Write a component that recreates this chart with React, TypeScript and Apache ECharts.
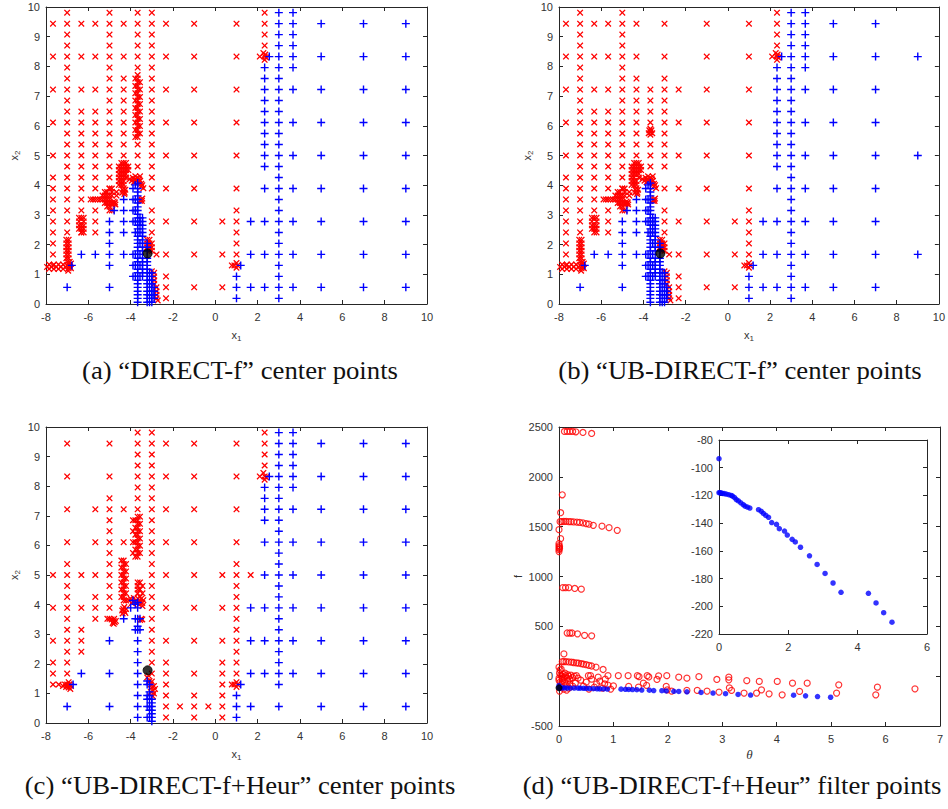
import React, { useEffect, useRef } from "react";
import * as echarts from "echarts";

type Col = [number, number[]];
type Pt = [number, number];

// ---------------- (a) "DIRECT-f" center points ----------------
const aRedCols: Col[] = [
  [-7.67, [9.44, 8.33, 7.22, 6.11, 5.0, 4.26, 3.89, 3.52, 3.15, 2.78, 2.41, 2.04, 1.67, 1.3]],
  [-7.0, [9.81, 9.44, 9.07, 8.7, 8.33, 7.96, 7.59, 7.22, 6.85, 6.48, 6.11, 5.74, 5.37, 5.0, 4.63, 4.26, 3.89, 3.52, 3.15, 2.78, 2.41]],
  [-6.33, [9.44, 8.33, 7.22, 6.48, 6.11, 5.74, 5.37, 5.0, 4.63, 4.26, 3.89, 3.52, 3.15, 2.41]],
  [-5.67, [9.44, 8.33, 7.22, 6.48, 6.11, 5.74, 5.37, 5.0, 4.63, 4.26, 3.89, 3.52, 3.15, 2.78, 2.41]],
  [-5.0, [9.81, 9.44, 9.07, 8.7, 8.33, 7.96, 7.59, 7.22, 6.85, 6.48, 6.11, 5.74, 5.37, 5.0, 4.63, 4.26, 3.89, 3.52, 3.15]],
  [-4.33, [9.44, 8.33, 7.59, 7.22, 6.85, 6.48, 6.11, 5.74, 5.37, 5.0, 4.26]],
  [-3.67, [9.81, 9.44, 9.07, 8.7, 8.33, 7.96, 5.37, 5.0, 4.63]],
  [-3.0, [9.81, 9.44, 9.07, 8.7, 8.33, 7.96, 7.59, 7.22, 6.85, 6.48, 6.11, 5.74, 5.37, 5.0, 4.63, 4.26, 3.89, 3.15, 2.78, 2.41]],
  [-2.33, [9.44, 8.33, 7.22, 6.11, 5.0, 3.89, 2.78, 1.67, 0.93, 0.56, 0.19]],
  [-1.0, [9.44, 8.33, 7.22, 6.11, 5.0, 3.89, 2.78, 1.67, 0.56]],
  [0.33, [2.78, 1.67, 0.56]],
  [1.0, [9.44, 8.33, 7.22, 6.11, 5.0, 3.89, 3.15, 2.78, 2.41, 2.04, 1.67]],
  [2.33, [9.81, 9.44, 9.07, 8.7]],
];
// dense red clusters shared by (a) and (b)
const abRedClusters: Pt[] = [
  [-7.95, 1.25], [-7.85, 1.18], [-7.85, 1.33], [-7.75, 1.25], [-7.63, 1.18], [-7.63, 1.33], [-7.52, 1.25],
  [-7.41, 1.18], [-7.41, 1.33], [-7.3, 1.25], [-7.19, 1.18], [-7.19, 1.33], [-7.08, 1.25],
  [-7.04, 2.16], [-6.93, 2.16], [-7.04, 2.04], [-6.93, 2.04], [-7.04, 1.91], [-6.93, 1.91], [-7.04, 1.79], [-6.93, 1.79],
  [-7.04, 1.67], [-6.93, 1.67], [-7.04, 1.54], [-6.93, 1.54], [-6.99, 1.42], [-6.88, 1.42], [-6.99, 1.3], [-6.88, 1.3],
  [-6.93, 1.2], [-6.82, 1.2], [-6.82, 1.36], [-6.95, 1.12], [-6.86, 1.25],
  [-6.44, 2.9], [-6.33, 2.9], [-6.22, 2.9], [-6.44, 2.78], [-6.22, 2.78], [-6.44, 2.65], [-6.33, 2.65], [-6.22, 2.65],
  [-6.44, 2.53], [-6.33, 2.53], [-6.22, 2.53], [-6.33, 2.41], [-6.22, 2.41],
  [-5.89, 3.52], [-5.78, 3.52], [-5.56, 3.52], [-5.44, 3.52], [-5.33, 3.52], [-5.22, 3.52], [-5.11, 3.52],
  [-5.33, 3.65], [-5.22, 3.65], [-5.11, 3.65], [-5.22, 3.4], [-5.11, 3.4], [-5.0, 3.65], [-5.0, 3.4], [-4.89, 3.4],
  [-4.85, 3.35], [-4.78, 3.38], [-4.74, 3.42], [-4.8, 3.45], [-4.72, 3.35], [-5.22, 3.77], [-5.11, 3.77],
  [-5.0, 3.89], [-4.89, 3.89], [-4.89, 3.65], [-4.89, 3.77], [-4.67, 3.65], [-4.67, 3.77], [-4.89, 3.15],
  [-5.11, 3.28], [-5.0, 3.28],
  [-4.44, 4.75], [-4.33, 4.75], [-4.22, 4.75], [-4.56, 4.63], [-4.44, 4.63], [-4.33, 4.63], [-4.22, 4.63], [-4.11, 4.63],
  [-4.56, 4.51], [-4.44, 4.51], [-4.33, 4.51], [-4.22, 4.51], [-4.11, 4.51], [-4.56, 4.38], [-4.44, 4.38], [-4.33, 4.38],
  [-4.22, 4.38], [-4.56, 4.26], [-4.44, 4.26], [-4.22, 4.26], [-4.56, 4.14], [-4.44, 4.14], [-4.33, 4.14],
  [-4.56, 4.01], [-4.44, 4.01], [-4.33, 4.01],
  [-4.38, 3.85], [-4.33, 3.8], [-4.28, 3.75], [-4.33, 3.9], [-4.25, 3.85], [-4.4, 3.75], [-4.3, 3.7],
  [-4.05, 4.2], [-3.95, 4.15], [-3.9, 4.25], [-3.85, 4.1], [-3.8, 4.2], [-3.75, 4.15], [-3.7, 4.25], [-3.65, 4.1],
  [-3.6, 4.2], [-3.55, 4.15], [-3.5, 4.05], [-3.45, 4.0], [-3.4, 3.9], [-3.5, 3.95], [-3.56, 4.3], [-3.78, 4.3],
  [-3.5, 3.52], [-3.45, 3.55], [-3.55, 3.48], [-3.47, 3.47],
  [-3.22, 2.16], [-3.11, 2.16], [-3.22, 2.04], [-3.11, 2.04], [-3.0, 2.04], [-3.22, 1.91], [-3.11, 1.91], [-3.0, 1.91],
  [-3.11, 1.79], [-3.0, 1.79], [-3.0, 1.1], [-2.89, 1.05], [-2.89, 0.93], [-2.89, 0.8], [-2.89, 0.68],
  [-2.78, 0.56], [-2.78, 0.43], [-2.78, 0.31], [-2.78, 0.19], [-2.72, 0.12], [-2.78, 1.67],
  [0.78, 1.3], [0.9, 1.3], [1.0, 1.38], [1.0, 1.22], [1.05, 1.3],
  [2.1, 8.33], [2.27, 8.45], [2.33, 8.33], [2.33, 8.22], [2.4, 8.3], [2.36, 8.4],
];
// dense column at x1 = -3.67 (only in (a))
const aRedColumn: Col[] = [
  [-3.78, [5.62, 5.86, 6.11, 6.36, 6.6, 6.85, 7.1, 7.34, 7.59]],
  [-3.67, [5.62, 5.74, 5.86, 5.99, 6.11, 6.23, 6.36, 6.48, 6.6, 6.73, 6.85, 6.97, 7.1, 7.22, 7.34, 7.47, 7.59, 7.71]],
  [-3.56, [5.74, 5.99, 6.23, 6.48, 6.73, 6.97, 7.22, 7.47]],
];
const abBlueLeftCols: Col[] = [
  [-7.0, [0.56]], [-6.78, [1.3]], [-6.33, [1.67]], [-5.67, [1.67]],
  [-5.0, [2.78, 2.41, 2.04, 1.67, 1.3, 0.56]],
  [-4.78, [3.15]],
  [-4.33, [3.52, 3.15, 2.78, 2.41, 1.67]],
  [-3.89, [3.89, 3.52, 3.15, 2.78, 1.67, 1.3, 0.93]],
  [-3.78, [4.01, 3.52, 3.15, 2.78, 2.41, 1.67, 1.3, 0.93]],
  [-3.67, [4.07, 3.89, 3.77, 3.64, 3.52, 3.4, 3.27, 3.15, 3.02, 2.9, 2.78, 2.65, 2.53, 2.41, 2.28, 2.16, 2.04, 1.91,
    1.79, 1.67, 1.54, 1.42, 1.3, 1.17, 1.05, 0.93, 0.8, 0.68, 0.56, 0.43, 0.31, 0.19, 0.06]],
  [-3.56, [2.9, 2.78, 2.65, 2.41, 2.04, 1.67, 1.3, 0.93]],
  [-3.44, [2.9, 2.78, 2.65, 2.53, 2.41, 2.28, 2.16, 2.04, 1.91, 1.79, 1.54, 1.42, 1.3, 1.17, 1.05, 0.93]],
  [-3.22, [2.04, 1.91, 1.79, 1.54, 1.42, 1.3, 1.17, 1.05, 0.93, 0.8, 0.68, 0.56, 0.43, 0.31, 0.19, 0.06]],
  [-3.11, [1.05, 0.8, 0.56, 0.31, 0.06]],
  [-3.0, [1.05, 0.93, 0.8, 0.68, 0.56, 0.43, 0.31, 0.19, 0.06]],
  [-2.89, [0.56, 0.43, 0.31, 0.19]],
  [1.0, [0.93, 0.56, 0.19]], [1.2, [1.3]],
  [1.67, [2.78, 1.67, 0.56]],
  [2.33, [7.96, 7.59, 7.22, 6.85, 6.48, 6.11, 5.74, 5.37, 5.0, 4.63, 3.89, 2.78, 1.67, 0.56]], [2.55, [8.33]],
  [3.0, [9.81, 9.44, 9.07, 8.7, 8.33, 7.96, 7.59, 7.22, 6.85, 6.48, 6.11, 5.74, 5.37, 5.0, 4.63, 4.26, 3.89, 3.52,
    3.15, 2.78, 2.41, 2.04, 1.67, 1.3, 0.93, 0.56, 0.19]],
  [3.67, [9.81, 9.44, 9.07, 8.7, 8.33, 7.96, 7.22, 6.11, 5.0, 3.89, 2.78, 1.67, 0.56]],
  [5.0, [9.44, 8.33, 7.22, 6.11, 5.0, 3.89, 2.78, 1.67, 0.56]],
  [7.0, [9.44, 8.33, 7.22, 6.11, 5.0, 3.89, 2.78, 1.67, 0.56]],
];
const aBlueRightCols: Col[] = [[9.0, [9.44, 8.33, 7.22, 6.11, 5.0, 3.89, 2.78, 1.67, 0.56]]];
const aBest: Pt[] = [[-3.2, 1.7]];

// ---------------- (b) "UB-DIRECT-f" center points ----------------
const bRedCols: Col[] = [
  [-7.67, [9.44, 8.33, 7.22, 6.11, 5.0, 4.26, 3.89, 3.52, 3.15, 2.78, 2.41, 2.04, 1.67, 1.3]],
  [-7.0, [9.81, 9.44, 9.07, 8.7, 8.33, 7.96, 7.59, 7.22, 6.85, 6.48, 6.11, 5.74, 5.37, 5.0, 4.63, 4.26, 3.89, 3.52, 3.15, 2.78, 2.41]],
  [-6.33, [9.44, 8.33, 7.22, 6.48, 6.11, 5.74, 5.37, 5.0, 4.63, 4.26, 3.89, 3.52, 3.15]],
  [-5.67, [9.44, 8.33, 7.22, 6.48, 6.11, 5.74, 5.37, 5.0, 4.63, 4.26, 3.89, 3.52, 3.15, 2.78, 2.41]],
  [-5.0, [9.81, 9.44, 9.07, 8.7, 8.33, 7.96, 7.59, 7.22, 6.85, 6.48, 6.11, 5.74, 5.37, 5.0, 4.63, 4.26, 3.89, 3.52, 3.15]],
  [-4.33, [9.44, 8.33, 7.59, 7.22, 6.85, 6.48, 6.11, 5.74, 5.37, 5.0]],
  [-3.67, [7.22, 6.85, 6.48, 6.11, 5.37, 5.0, 4.63]],
  [-3.0, [9.44, 8.33, 7.59, 7.22, 6.85, 6.48, 6.11, 5.74, 5.37, 5.0, 4.63, 3.89, 3.15, 2.78, 2.41]],
  [-2.33, [7.22, 6.11, 5.0, 3.89, 2.78, 1.67, 0.93, 0.56, 0.19]],
  [-1.0, [9.44, 8.33, 7.22, 6.11, 5.0, 3.89, 2.78, 1.67, 0.56]],
  [0.33, [2.78, 1.67, 0.56]],
  [1.0, [9.44, 8.33, 7.22, 6.11, 5.0, 3.89, 3.15, 2.78, 2.41, 2.04, 1.67]],
  [2.33, [9.81, 9.44, 9.07, 8.7]],
];
const bRedBlob: Pt[] = [[-3.72, 5.85], [-3.62, 5.85], [-3.67, 5.78], [-3.67, 5.9], [-3.75, 5.75], [-3.58, 5.75], [-3.67, 5.7]];
const bBlueRightCols: Col[] = [[9.0, [8.33, 5.0, 1.67]]];
const bBest: Pt[] = [[-3.2, 1.7]];

// ---------------- (c) "UB-DIRECT-f+Heur" center points ----------------
const cRedCols: Col[] = [
  [-7.67, [5.0, 3.89, 2.78, 2.04, 1.67, 1.3]],
  [-7.0, [9.44, 8.33, 7.22, 6.11, 5.37, 5.0, 4.63, 4.26, 3.89, 3.52, 3.15, 2.78, 2.41, 2.04, 1.67]],
  [-6.33, [5.0, 3.89, 3.15, 2.78, 2.41]],
  [-5.67, [7.22, 6.11, 5.0, 4.26, 3.89, 3.52]],
  [-5.0, [9.44, 8.33, 7.59, 7.22, 6.85, 6.48, 6.11, 5.74, 5.37, 5.0, 4.63, 4.26, 3.89, 3.52]],
  [-4.33, [7.22, 6.11]],
  [-3.89, [6.85, 6.48, 6.11, 5.74]],
  [-3.67, [9.81, 9.44, 9.07, 8.7, 8.33, 7.96, 7.59, 7.22]],
  [-3.0, [9.81, 9.44, 9.07, 8.7, 8.33, 7.96, 7.59, 7.22, 6.85, 6.48, 6.11, 5.74, 5.37, 5.0, 4.63, 4.26, 3.89, 3.52, 3.15, 2.78, 2.41, 2.04, 1.67]],
  [-2.33, [9.44, 8.33, 7.22, 6.11, 5.0, 3.89, 2.78, 2.04, 1.67, 1.3, 0.93, 0.56, 0.19]],
  [-1.67, [0.56]],
  [-1.0, [9.44, 8.33, 7.22, 6.11, 5.0, 3.89, 2.78, 1.67, 0.93, 0.56, 0.19]],
  [-0.33, [0.56]],
  [0.33, [5.0, 3.89, 2.78, 2.04, 1.67, 1.3, 0.93, 0.56, 0.19]],
  [1.0, [9.44, 8.33, 7.22, 6.11, 5.37, 5.0, 4.63, 4.26, 3.89, 3.52, 3.15, 2.78, 2.41, 2.04, 1.67]],
  [1.67, [5.0]],
  [2.33, [9.81, 9.44, 9.07, 8.7]],
  [-4.44, [5.49, 5.25, 5.0, 4.75, 4.51, 4.26]],
  [-4.33, [5.49, 5.37, 5.25, 5.12, 5.0, 4.88, 4.75, 4.63, 4.51, 4.38, 4.26, 4.14]],
  [-4.22, [5.37, 5.12, 4.88, 4.63, 4.38, 4.14]],
  [-3.78, [5.62, 5.86, 6.11, 6.36, 6.6, 6.85]],
  [-3.67, [5.62, 5.74, 5.86, 5.99, 6.11, 6.23, 6.36, 6.48, 6.6, 6.73, 6.85, 6.97]],
  [-3.56, [5.74, 5.99, 6.23, 6.48, 6.73, 6.97]],
  [-3.67, [4.38, 4.51, 4.63, 4.75]],
  [-3.56, [4.26, 4.51, 4.75]],
  [-3.44, [4.38, 4.63]],
];
const cRedClusters: Pt[] = [
  [-7.0, 1.3], [-6.93, 1.2], [-6.88, 1.3], [-6.82, 1.25], [-6.93, 1.38], [-7.05, 1.22], [-6.85, 1.15], [-7.1, 1.3],
  [-7.2, 1.25], [-7.4, 1.3], [-6.9, 1.3], [-6.95, 1.25],
  [-4.9, 3.5], [-4.8, 3.45], [-4.75, 3.4], [-4.85, 3.38], [-4.78, 3.52], [-4.7, 3.45], [-5.1, 3.52], [-4.8, 3.35],
  [-4.35, 3.85], [-4.3, 3.78], [-4.25, 3.72], [-4.4, 3.8], [-4.3, 3.92], [-4.22, 3.85], [-4.38, 3.7],
  [-4.1, 4.15], [-4.0, 4.2], [-3.9, 4.1], [-3.85, 4.22], [-3.75, 4.15], [-3.65, 4.2], [-3.55, 4.1], [-3.5, 4.2],
  [-3.45, 4.05], [-3.4, 4.15], [-3.6, 4.0], [-3.44, 3.95], [-3.95, 4.05], [-3.7, 4.05],
  [-3.5, 3.52], [-3.45, 3.5], [-3.55, 3.48],
  [-3.22, 1.54], [-3.11, 1.42], [-3.05, 1.3], [-3.0, 1.2], [-2.95, 1.1], [-2.9, 1.0], [-2.95, 0.9], [-3.05, 1.05],
  [-2.9, 1.25], [-3.0, 1.4], [-2.85, 1.15], [-3.15, 1.6],
  [0.78, 1.3], [0.9, 1.3], [1.0, 1.38], [1.0, 1.22], [1.05, 1.3],
  [2.1, 8.33], [2.27, 8.45], [2.33, 8.33], [2.33, 8.22], [2.4, 8.3],
];
const cBlueCols: Col[] = [
  [-7.0, [0.56]], [-6.72, [1.3]], [-6.33, [1.67]],
  [-5.0, [2.78, 1.67, 0.56]],
  [-4.33, [3.52]], [-4.0, [3.89]], [-3.89, [4.14]],
  [-3.78, [4.01, 3.52, 3.15]],
  [-3.67, [4.07, 3.89, 3.52, 3.27, 3.15, 2.78, 2.41, 2.04, 1.67, 1.3, 0.93, 0.56, 0.19]],
  [-3.56, [3.52, 3.15]],
  [-3.22, [1.42, 1.3, 0.93, 0.8, 0.56, 0.19]],
  [-3.11, [1.3, 1.05, 0.93, 0.8, 0.56, 0.43, 0.19]],
  [-3.0, [0.8, 0.68, 0.56, 0.43, 0.31, 0.19, 0.06]],
  [1.0, [0.93, 0.56, 0.19]], [1.2, [1.3]],
  [1.67, [3.89, 2.78, 1.67, 0.56]],
  [2.33, [7.96, 7.59, 7.22, 6.85, 6.11, 5.0, 3.89, 2.78, 1.67]], [2.55, [8.33]],
  [3.0, [9.81, 9.44, 9.07, 8.7, 8.33, 7.96, 7.59, 7.22, 6.85, 6.48, 6.11, 5.74, 5.37, 5.0, 4.63, 4.26, 3.89, 3.52,
    3.15, 2.78, 2.41, 2.04, 1.67, 1.3, 0.56]],
  [3.67, [9.81, 9.44, 9.07, 8.7, 8.33, 7.96, 7.22, 6.11, 5.0, 3.89, 2.78, 1.67]],
  [5.0, [9.44, 8.33, 7.22, 6.11, 5.0, 3.89, 2.78, 1.67, 0.56]],
  [7.0, [9.44, 8.33, 7.22, 6.11, 5.0, 3.89, 2.78, 1.67, 0.56]],
  [9.0, [9.44, 8.33, 7.22, 6.11, 5.0, 3.89, 2.78, 1.67, 0.56]],
];
const cBest: Pt[] = [[-3.2, 1.78]];

// ---------------- (d) "UB-DIRECT-f+Heur" filter points (theta, f) ----------------
const dRed: Pt[] = [
  [0.1, 2455], [0.15, 2455], [0.2, 2455], [0.25, 2455], [0.31, 2452], [0.44, 2445], [0.6, 2435],
  [0.06, 1820], [0.03, 1640], [0.0, 1470], [0.03, 1380],
  [0.0, 1330], [0.0, 1310], [0.0, 1290], [0.0, 1270], [0.0, 1250], [0.01, 1300], [0.01, 1280],
  [0.02, 1550], [0.05, 1550], [0.09, 1552], [0.13, 1552], [0.18, 1550], [0.22, 1550], [0.27, 1548], [0.33, 1546],
  [0.38, 1543], [0.44, 1538], [0.5, 1530], [0.55, 1525], [0.63, 1513], [0.79, 1505], [0.92, 1490], [1.07, 1463],
  [0.07, 888], [0.12, 888], [0.18, 888], [0.29, 880], [0.41, 873],
  [0.15, 433], [0.2, 433], [0.24, 433], [0.34, 425], [0.47, 410], [0.6, 405],
  [0.09, 223],
  [0.06, 147], [0.09, 147], [0.13, 145], [0.18, 143], [0.23, 140], [0.27, 137], [0.32, 133], [0.36, 130],
  [0.41, 125], [0.45, 120], [0.5, 115], [0.55, 108], [0.6, 102], [0.68, 90], [0.81, 67],
  [0.0, 90], [0.02, 60], [0.04, 70], [0.01, 30], [0.03, 10], [0.05, 0], [0.08, 20], [0.1, -10], [0.12, 5],
  [0.15, -20], [0.18, 0], [0.2, -30], [0.22, 10], [0.25, -15], [0.28, 0], [0.0, -40], [0.02, -60], [0.05, -80],
  [0.07, -40], [0.1, -60], [0.13, -90], [0.16, -50], [0.2, -80], [0.25, -100], [0.3, -70], [0.04, -110],
  [0.09, -130], [0.14, -140], [0.18, -120], [0.0, -20], [0.01, -150], [0.06, -20], [0.11, 30], [0.16, 15],
  [0.35, -20], [0.4, -40], [0.45, -100], [0.5, -60], [0.55, -130], [0.6, -30], [0.65, -110], [0.75, -50],
  [0.8, -120], [0.85, -30], [0.9, -90], [0.95, -130],
  [0.32, 5], [0.54, 5], [0.58, 5], [0.72, -10], [0.9, 5], [1.09, 5], [1.27, 5], [1.44, 5], [1.47, -5], [1.62, 5],
  [1.65, -8], [1.83, 3], [1.98, 5], [2.2, -10], [2.35, -20], [2.57, -5], [2.9, -33], [3.12, -10], [3.12, -37], [3.45, -45],
  [0.69, -77], [0.84, -77], [1.0, -97], [1.28, -103], [1.46, -110], [1.55, -70], [1.61, -93], [1.8, -33],
  [1.97, -103], [1.99, -137], [2.07, -150], [2.35, -143], [2.54, -143], [2.72, -150], [2.94, -160], [3.13, -117],
  [3.17, -143], [3.4, -170],
  [3.63, -170], [3.68, -53], [3.72, -137], [3.86, -177], [4.01, -53], [4.1, -187], [4.29, -70], [4.42, -153],
  [4.56, -70], [5.1, -170], [5.14, -87], [5.82, -187], [5.85, -110], [6.54, -127],
];
const dBlue: Pt[] = [
  [0.0, -93.5], [0.0, -118], [0.03, -118], [0.06, -118.3], [0.1, -118.5], [0.15, -118.7], [0.21, -119],
  [0.28, -119.5], [0.35, -120], [0.39, -120.5], [0.45, -121.5], [0.5, -123], [0.56, -124], [0.63, -125.3],
  [0.7, -126.7], [0.75, -127.7], [0.82, -128.4], [0.89, -129.1], [1.14, -130.3], [1.22, -131.5], [1.28, -133],
  [1.35, -134.4], [1.43, -135.8], [1.52, -139.6], [1.66, -140.9], [1.74, -144], [1.89, -145.7], [1.97, -148.6],
  [2.11, -151.7], [2.2, -153.6], [2.35, -157.4], [2.61, -163.6], [2.83, -169.8], [3.06, -176.3], [3.29, -183.2],
  [3.52, -189.9], [4.31, -190.6], [4.53, -197.6], [4.75, -204.6], [4.99, -211.5],
];
const dBest: Pt[] = [[0.0, -117]];

const captions = [
  "(a) \u201cDIRECT-f\u201d center points",
  "(b) \u201cUB-DIRECT-f\u201d center points",
  "(c) \u201cUB-DIRECT-f+Heur\u201d center points",
  "(d) \u201cUB-DIRECT-f+Heur\u201d filter points",
];

// ---------------------------------------------------------------------
const expand = (cols: Col[]): Pt[] => cols.flatMap(([x, ys]) => ys.map((y) => [x, y] as Pt));

const SANS = "'Liberation Sans', Arial, Helvetica, sans-serif";
const SERIF = "'Liberation Serif', 'Times New Roman', serif";
const AX = "#262626";
const LBL = "#333333";
// filled outlines (no stroke) for the MATLAB '+' and 'x' markers
const PLUS = "path://M4.12,0L5.88,0L5.88,4.12L10,4.12L10,5.88L5.88,5.88L5.88,10L4.12,10L4.12,5.88L0,5.88L0,4.12L4.12,4.12Z";
const CROSS = "path://M0,1.4L1.4,0L5,3.6L8.6,0L10,1.4L6.4,5L10,8.6L8.6,10L5,6.4L1.4,10L0,8.6L3.6,5Z";

const subRich = {
  b: { fontSize: 11, fontFamily: SANS, color: LBL, lineHeight: 14 },
  s: { fontSize: 8, fontFamily: SANS, color: LBL, lineHeight: 8, verticalAlign: "bottom" },
};
const plainNum = (v: number) => String(v);

function axisBase(grid: number, min: number, max: number, interval: number) {
  return {
    type: "value",
    gridIndex: grid,
    min,
    max,
    interval,
    splitLine: { show: false },
    axisLine: { show: true, onZero: false, lineStyle: { color: AX, width: 1 } },
    axisTick: { show: true, inside: true, length: 4, lineStyle: { color: AX, width: 1 } },
  };
}
function xPair(grid: number, min: number, max: number, interval: number, name: any, nameGap: number, nameTextStyle: any) {
  return [
    {
      ...axisBase(grid, min, max, interval),
      position: "bottom",
      axisLabel: { color: LBL, fontSize: 11, fontFamily: SANS, margin: 7, formatter: plainNum },
      name,
      nameLocation: "middle",
      nameGap,
      nameTextStyle,
    },
    { ...axisBase(grid, min, max, interval), position: "top", axisLabel: { show: false } },
  ];
}
function yPair(grid: number, min: number, max: number, interval: number, name: any, nameGap: number, nameTextStyle: any) {
  return [
    {
      ...axisBase(grid, min, max, interval),
      position: "left",
      axisLabel: { color: LBL, fontSize: 11, fontFamily: SANS, margin: 6, formatter: plainNum },
      name,
      nameLocation: "middle",
      nameGap,
      nameTextStyle,
    },
    { ...axisBase(grid, min, max, interval), position: "right", axisLabel: { show: false } },
  ];
}

function markSeries(grid: number, data: Pt[], kind: "plus" | "cross" | "best" | "ring" | "dot" | "bestd", z = 2) {
  const base: any = {
    type: "scatter",
    xAxisIndex: grid * 2,
    yAxisIndex: grid * 2,
    data,
    silent: true,
    z,
    emphasis: { disabled: true },
  };
  if (kind === "plus") {
    base.symbol = PLUS;
    base.symbolSize = 8;
    base.itemStyle = { color: "#0000ff", borderWidth: 0, opacity: 1 };
  } else if (kind === "cross") {
    base.symbol = CROSS;
    base.symbolSize = 6.5;
    base.itemStyle = { color: "#ff0000", borderWidth: 0, opacity: 1 };
  } else if (kind === "best") {
    base.symbol = "circle";
    base.symbolSize = 9;
    base.itemStyle = { color: "#000000", borderColor: "#000000", borderWidth: 1 };
  } else if (kind === "ring") {
    base.symbol = "circle";
    base.symbolSize = 6;
    base.itemStyle = { color: "rgba(255,255,255,0)", borderColor: "#ff0000", borderWidth: 1.2 };
  } else if (kind === "dot") {
    base.symbol = "circle";
    base.symbolSize = 5.5;
    base.itemStyle = { color: "#0000ff", borderWidth: 0 };
  } else {
    base.symbol = "circle";
    base.symbolSize = 6;
    base.itemStyle = { color: "#000000", borderColor: "#000000", borderWidth: 1 };
  }
  return base;
}

export default function App() {
  const ref = useRef<HTMLDivElement>(null);
  useEffect(() => {
    if (!ref.current) return;
    const chart = echarts.init(ref.current, undefined, { renderer: "svg" });
    const x1Name = "{b|x}{s|1}";
    const x2Name = "{b|x}{s|2}";
    const subStyle = { rich: subRich };
    const option: any = {
      animation: false,
      backgroundColor: "#ffffff",
      grid: [
        { left: 46, top: 7, width: 381, height: 297 },
        { left: 559, top: 7, width: 381, height: 297 },
        { left: 46, top: 427, width: 381, height: 296 },
        { left: 559, top: 427, width: 381, height: 299 },
        { left: 719, top: 440, width: 208, height: 194, show: true, backgroundColor: "#ffffff", borderWidth: 0, z: 5 },
      ],
      xAxis: [
        ...xPair(0, -8, 10, 2, x1Name, 24, subStyle),
        ...xPair(1, -8, 10, 2, x1Name, 24, subStyle),
        ...xPair(2, -8, 10, 2, x1Name, 24, subStyle),
        ...xPair(3, 0, 7, 1, "\u03b8", 22, { fontFamily: SERIF, fontStyle: "italic", fontSize: 13, color: LBL }),
        ...xPair(4, 0, 6, 2, "", 0, {}).map((a: any) => ({ ...a, z: 6 })),
      ],
      yAxis: [
        ...yPair(0, 0, 10, 1, x2Name, 25, subStyle),
        ...yPair(1, 0, 10, 1, x2Name, 25, subStyle),
        ...yPair(2, 0, 10, 1, x2Name, 25, subStyle),
        ...yPair(3, -500, 2500, 500, "f", 36, { fontFamily: SANS, fontSize: 11, color: LBL }),
        ...yPair(4, -220, -80, 20, "", 0, {}).map((a: any) => ({ ...a, z: 6 })),
      ],
      series: [
        markSeries(0, expand(aRedCols), "cross"),
        markSeries(0, abRedClusters, "cross"),
        markSeries(0, expand(aRedColumn), "cross"),
        markSeries(0, expand(abBlueLeftCols), "plus"),
        markSeries(0, expand(aBlueRightCols), "plus"),
        markSeries(0, aBest, "best", 3),

        markSeries(1, expand(bRedCols), "cross"),
        markSeries(1, abRedClusters, "cross"),
        markSeries(1, bRedBlob, "cross"),
        markSeries(1, expand(abBlueLeftCols), "plus"),
        markSeries(1, expand(bBlueRightCols), "plus"),
        markSeries(1, bBest, "best", 3),

        markSeries(2, expand(cRedCols), "cross"),
        markSeries(2, cRedClusters, "cross"),
        markSeries(2, expand(cBlueCols), "plus"),
        markSeries(2, cBest, "best", 3),

        markSeries(3, dRed, "ring"),
        markSeries(3, dBlue, "dot"),
        markSeries(3, dBest, "bestd", 3),

        markSeries(4, dBlue, "dot", 7),
      ],
      graphic: [
        { x: 240, y: 371, text: captions[0] },
        { x: 740, y: 371, text: captions[1] },
        { x: 240, y: 786, text: captions[2] },
        { x: 732, y: 786, text: captions[3] },
      ].map((c) => ({
        type: "text",
        x: c.x,
        y: c.y,
        scaleX: 1.07,
        silent: true,
        style: {
          text: c.text,
          fill: "#111111",
          font: `25px ${SERIF}`,
          fontSize: 25,
          fontFamily: SERIF,
          align: "center",
          verticalAlign: "middle",
          textAlign: "center",
          textVerticalAlign: "middle",
        },
      })),
    };
    chart.setOption(option);
    return () => chart.dispose();
  }, []);
  return (
    <div
      ref={ref}
      style={{ position: "absolute", left: 0, top: 0, width: 948, height: 809, background: "#fff" }}
    />
  );
}
